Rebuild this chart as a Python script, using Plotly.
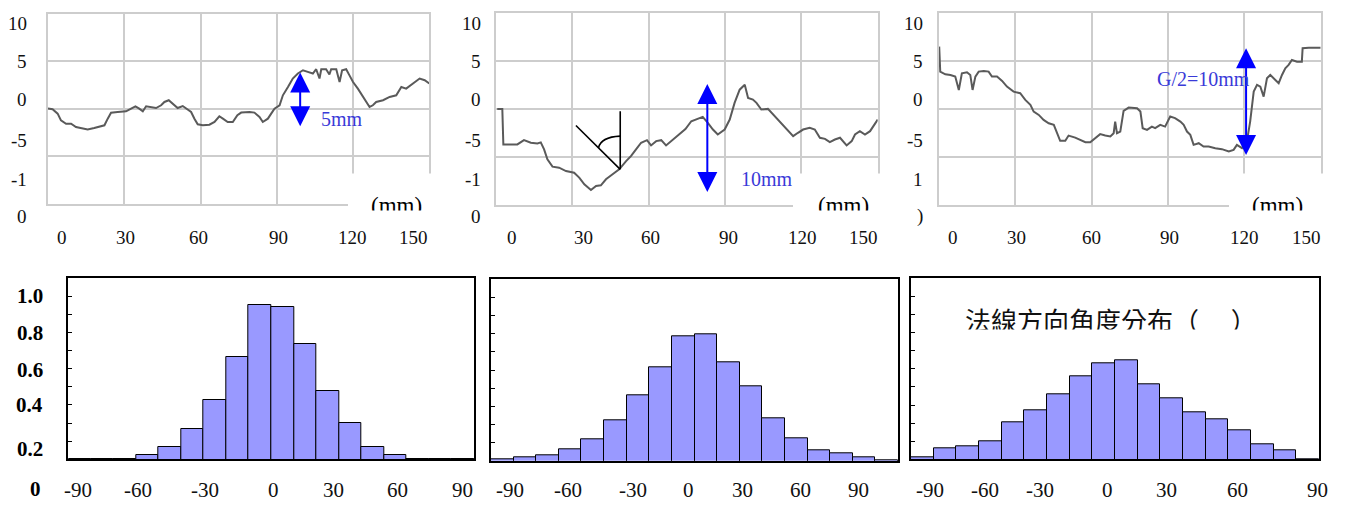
import plotly.graph_objects as go

W, H = 1346, 509
OFF = 8                      # page body margin in the browser
FW, FH = W - 2 * OFF, H - 2 * OFF

# ---------------- data: surface profiles (x in mm, height in mm) ----------------
profile_a_x = [0, 1.8, 3.8, 5.1, 7.1, 9.1, 11.0, 13.7, 15.6, 18.2, 20.2, 22.2, 23.5, 24.8, 27.4, 30.7,
               32.7, 34.4, 35.9, 37.3, 38.6, 40.6, 42.5, 44.5, 45.8, 47.5, 49.1, 51.0, 53.0, 54.3,
               56.3, 57.6, 58.9, 60.9, 63.5, 65.5, 67.4, 68.8, 70.7, 72.7, 74.5, 76.0, 79.3, 81.2,
               83.2, 84.5, 86.5, 87.8, 89.1, 91.1, 92.4, 94.4, 96.3, 98.3, 100.3, 102.2, 104.2,
               105.5, 106.8, 107.5, 109.4, 110.7, 111.4, 113.4, 114.7, 115.7, 117.3, 118.6, 120.0,
               121.9, 123.2, 125.2, 126.5, 127.8, 129.1, 131.8, 134.4, 137.0, 139.0, 140.9, 143.6,
               146.2, 148.2, 150.0]
profile_a_y = [0, -0.07, -0.53, -1.24, -1.6, -1.6, -1.94, -2.05, -2.19, -2.05, -1.94, -1.76, -1.06,
               -0.43, -0.36, -0.29, 0, 0.24, 0, -0.29, 0.24, 0.17, 0.06, 0.35, 0.7, 0.88, 0.53, 0.06,
               0.27, 0, -0.36, -1.06, -1.66, -1.76, -1.7, -1.41, -0.81, -1.06, -1.41, -1.41, -0.7,
               -0.42, -0.36, -0.42, -0.88, -1.41, -1.06, -0.53, 0, 0.35, 1.4, 2.28, 3.17, 3.7, 4.04,
               3.87, 3.7, 4.15, 3.17, 4.15, 4.15, 3.6, 4.15, 4.15, 2.8, 4.04, 4.15, 3.5, 2.8, 2.1,
               1.58, 0.7, 0.17, 0.35, 0.7, 0.88, 1.23, 1.4, 2.28, 2.11, 2.64, 3.17, 2.99, 2.64]

profile_b_x = [0.6, 2.6, 3.0, 5.2, 8.5, 11.1, 13.8, 16.4, 17.7, 19.0, 20.3, 22.3, 24.9, 27.6, 30.8,
               32.8, 34.8, 37.4, 39.4, 41.3, 43.3, 45.9, 48.5, 51.2, 53.1, 55.1, 57.1, 59.4, 61.0,
               63.0, 65.0, 66.9, 68.9, 70.9, 72.8, 74.5, 76.8, 79.4, 81.3, 83.3, 85.3, 87.2, 89.9,
               91.9, 93.8, 95.8, 97.8, 99.1, 101.0, 102.4, 104.3, 106.9, 108.9, 110.9, 112.8, 114.8,
               116.8, 118.7, 120.7, 123.3, 125.3, 127.3, 129.3, 131.2, 133.2, 135.2, 136.5, 137.8,
               139.8, 141.1, 143.0, 145.0, 147.0, 148.9, 150.0]
profile_b_y = [0, 0, -3.72, -3.75, -3.72, -3.27, -3.54, -3.61, -3.5, -4.24, -5.28, -6.04, -6.15, -6.5,
               -6.67, -7.19, -7.89, -8.48, -8.06, -7.99, -7.36, -6.84, -6.32, -5.46, -4.94, -4.24,
               -3.54, -3.27, -3.82, -3.37, -3.27, -3.82, -3.37, -2.85, -2.5, -2.1, -1.29, -1.04, -0.83,
               -1.46, -2.16, -2.68, -2.16, -1.11, 0.63, 2.01, 2.53, 1.15, 0.97, 0.63, -0.07, 0, -0.59,
               -1.11, -1.64, -2.33, -2.85, -2.5, -2.16, -1.98, -2.16, -3.02, -3.13, -3.47, -3.2, -3.02,
               -3.37, -3.82, -3.37, -2.68, -2.33, -2.68, -2.33, -1.64, -1.11]

profile_c_x = [0.2, 0.6, 2.6, 4.6, 6.5, 7.9, 9.1, 11.1, 12.4, 13.3, 14.4, 15.7, 17.7, 19.6, 20.9, 22.9,
               24.9, 26.8, 29.4, 32.0, 34.0, 36.0, 37.3, 39.3, 41.2, 43.2, 45.2, 46.4, 47.7, 49.7,
               51.0, 53.6, 55.6, 57.6, 59.5, 61.5, 63.4, 65.4, 67.4, 68.7, 69.3, 70.0, 71.3, 72.6,
               73.9, 74.6, 77.9, 79.2, 80.1, 81.8, 83.7, 85.0, 87.0, 88.9, 90.9, 92.8, 94.9, 96.2,
               97.5, 98.8, 100.1, 102.1, 104.0, 106.0, 108.6, 111.2, 113.9, 115.8, 117.1, 119.1,
               121.0, 122.3, 123.7, 125.0, 126.3, 127.6, 128.9, 130.2, 132.2, 133.5, 134.8, 136.1,
               137.4, 138.7, 140.7, 142.6, 142.9, 145.3, 150.0]
profile_c_y = [6.51, 3.9, 3.62, 3.55, 3.38, 1.98, 3.73, 3.83, 3.55, 1.98, 3.38, 3.9, 3.97, 3.9, 3.38,
               3.38, 2.93, 2.33, 1.81, 1.64, 0.94, 0.42, -0.28, -0.63, -1.15, -1.5, -1.67, -2.54, -3.34,
               -3.34, -2.79, -3.0, -3.24, -3.48, -3.48, -3.06, -2.64, -2.79, -2.89, -2.54, -1.33, -2.54,
               -2.37, -0.2, 0.07, 0.14, 0.07, -0.28, -2.02, -2.19, -1.85, -2.02, -1.67, -1.85, -0.8,
               -0.97, -1.33, -1.67, -2.37, -2.72, -3.76, -3.59, -3.94, -3.94, -4.11, -4.21, -4.46,
               -4.28, -3.76, -4.1, -3.42, -1.33, 1.81, 2.51, 2.33, 1.29, 3.21, 3.55, 3.03, 2.69, 3.55,
               4.25, 4.6, 5.12, 4.94, 4.94, 6.34, 6.4, 6.4]

# ---------------- data: normal-direction angle distributions ----------------
angle_bins = [-85, -75, -65, -55, -45, -35, -25, -15, -5, 5, 15, 25, 35, 45, 55, 65, 75, 85]
dist_a = [0.104, 0.104, 0.104, 0.124, 0.166, 0.266, 0.427, 0.666, 0.950, 0.941, 0.734, 0.478,
          0.299, 0.170, 0.124, 0.104, 0.104, 0.104]
dist_b = [0.106, 0.118, 0.129, 0.164, 0.218, 0.322, 0.458, 0.615, 0.784, 0.799, 0.642, 0.508,
          0.335, 0.225, 0.155, 0.140, 0.118, 0.100]
dist_c = [0.109, 0.159, 0.174, 0.199, 0.306, 0.370, 0.460, 0.560, 0.629, 0.646, 0.514, 0.436,
          0.357, 0.319, 0.260, 0.183, 0.148, 0.100]

# ---------------- text ----------------
top_x_ticks = ["0", "30", "60", "90", "120", "150"]
top_y_ticks = ["10", "5", "0", "-5", "-1", "0"]
top_y_ticks_c = ["10", "5", "0", "-5", "1", ")"]
bottom_x_ticks = ["-90", "-60", "-30", "0", "30", "60", "90"]
bottom_y_ticks = ["1.0", "0.8", "0.6", "0.4", "0.2", "0"]
unit_label = "(mm)"
gap_labels = ["5mm", "10mm", "G/2=10mm"]
dist_title = "法線方向角度分布（　 ）"

# ---------------- layout geometry (window pixels) ----------------
def PX(x):
    return (x - OFF) / FW

def PY(y):
    return 1 - (y - OFF) / FH

TOP_X = [(48, 429.3), (495.7, 877.7), (938.7, 1320.7)]
TOP_Y = [(13.7, 203.5), (13.3, 204.5), (13.3, 204.5)]
BOT_X = [(68.3, 474.3), (491, 898), (911, 1319)]
BOT_Y = [(278, 459.3), (279.3, 460.7), (278.3, 459.3)]

SERIF = "Liberation Serif"
GRID = "#cdcdcd"

fig = go.Figure()

profiles = [(profile_a_x, profile_a_y), (profile_b_x, profile_b_y), (profile_c_x, profile_c_y)]
for i, (px_, py_) in enumerate(profiles):
    k = "" if i == 0 else str(i + 1)
    fig.add_trace(go.Scatter(x=px_, y=py_, mode="lines",
                             line=dict(color="#5a5a5a", width=2),
                             xaxis="x" + k, yaxis="y" + k, hoverinfo="skip"))

dists = [dist_a, dist_b, dist_c]
for i, d in enumerate(dists):
    k = str(i + 4)
    fig.add_trace(go.Bar(x=angle_bins, y=d, width=10,
                         marker=dict(color="#9999ff", line=dict(color="black", width=1)),
                         xaxis="x" + k, yaxis="y" + k))

layout = dict(width=FW, height=FH, margin=dict(l=0, r=0, t=0, b=0),
              paper_bgcolor="white", plot_bgcolor="white", showlegend=False,
              bargap=0)

for i in range(3):
    k = "" if i == 0 else str(i + 1)
    x0, x1 = TOP_X[i]
    y0, y1 = TOP_Y[i]
    layout["xaxis" + k] = dict(domain=[PX(x0), PX(x1)], range=[0, 150], dtick=30, tick0=0,
                               showgrid=True, gridcolor=GRID, gridwidth=2, zeroline=False,
                               showticklabels=False, ticks="", showline=True, mirror=True,
                               linecolor=GRID, linewidth=2, anchor="y" + k, fixedrange=True)
    layout["yaxis" + k] = dict(domain=[PY(y1), PY(y0)], range=[-10, 10], dtick=5, tick0=0,
                               showgrid=True, gridcolor=GRID, gridwidth=2, zeroline=False,
                               showticklabels=False, ticks="", showline=True, mirror=True,
                               linecolor=GRID, linewidth=2, anchor="x" + k, fixedrange=True)

for i in range(3):
    k = str(i + 4)
    x0, x1 = BOT_X[i]
    y0, y1 = BOT_Y[i]
    layout["xaxis" + k] = dict(domain=[PX(x0), PX(x1)], range=[-90, 90], showgrid=False,
                               zeroline=False, showticklabels=False, ticks="", showline=True,
                               mirror=True, linecolor="black", linewidth=1.6, anchor="y" + k,
                               fixedrange=True)
    layout["yaxis" + k] = dict(domain=[PY(y1), PY(y0)], range=[0.1, 1.1], showgrid=False,
                               zeroline=False, showticklabels=False,
                               tickvals=[0.2, 0.3, 0.4, 0.5, 0.6, 0.7, 0.8, 0.9, 1.0],
                               ticks="inside", ticklen=4, tickcolor="black", tickwidth=1,
                               showline=True, mirror=True, linecolor="black", linewidth=1.6,
                               anchor="x" + k, fixedrange=True)

shapes = []
# white blocks masking lower-right corners of the profile frames
white_blocks = [(348, 433), (793, 881), (1229, 1325)]
for (a, b) in white_blocks:
    shapes.append(dict(type="rect", xref="paper", yref="paper", x0=PX(a), x1=PX(b),
                       y0=PY(214), y1=PY(173.5), fillcolor="white", line=dict(width=0),
                       layer="above"))
# angle sketch in the middle profile
shapes.append(dict(type="line", xref="x2", yref="y2", x0=31.5, y0=-1.74, x1=48.9, y1=-6.32,
                   line=dict(color="black", width=1.6), layer="above"))
shapes.append(dict(type="line", xref="x2", yref="y2", x0=48.9, y0=-0.25, x1=48.9, y1=-6.32,
                   line=dict(color="black", width=1.6), layer="above"))
shapes.append(dict(type="path", xref="x2", yref="y2", path="M 40.4,-4.06 Q 41.3,-2.94 48.9,-2.85",
                   line=dict(color="black", width=1.6), layer="above"))
layout["shapes"] = shapes

ann = []
BLUE = "#0000ff"
TXTBLUE = "#3a3ad8"
# double arrows
arrows = [("x", "y", 99.2, 3.97, -1.87), ("x2", "y2", 83.1, 2.77, -8.69),
          ("x3", "y3", 120.7, 6.51, -4.81)]
for xr, yr, xv, ytop, ybot in arrows:
    ann.append(dict(x=xv, y=ybot, ax=xv, ay=ytop, xref=xr, yref=yr, axref=xr, ayref=yr,
                    text="", showarrow=True, arrowhead=2, startarrowhead=2,
                    arrowside="end+start", arrowsize=2, startarrowsize=2, arrowwidth=2,
                    arrowcolor=BLUE, standoff=0, startstandoff=0))
# gap labels
gap_pos = [(319, 119), (739, 178.5), (1155, 78.5)]
for t, (gx, gy) in zip(gap_labels, gap_pos):
    ann.append(dict(x=PX(gx), y=PY(gy), xref="paper", yref="paper", text=t, showarrow=False,
                    xanchor="left", yanchor="middle",
                    font=dict(family=SERIF, size=20, color=TXTBLUE)))

# (mm) unit labels, clipped at the bottom
mm_pos = [396, 843, 1277]
for mx in mm_pos:
    ann.append(dict(x=PX(mx), y=PY(206), xref="paper", yref="paper", text=unit_label,
                    showarrow=False, xanchor="center", yanchor="middle",
                    font=dict(family=SERIF, size=23, color="black")))
    ann.append(dict(x=PX(mx), y=PY(210), xref="paper", yref="paper", text=" ",
                    showarrow=False, xanchor="center", yanchor="top", width=80, height=16,
                    bgcolor="white", borderpad=0))

# top tick labels
top_y_pos = [23, 61, 100, 140, 180, 216]
top_y_right = [29, 483, 925]
top_x_pos = [[62, 125, 199, 278, 352, 413], [512, 583, 650, 728, 802, 863],
             [953, 1016, 1091, 1169, 1244, 1306]]
for i in range(3):
    labels = top_y_ticks_c if i == 2 else top_y_ticks
    for t, yy in zip(labels, top_y_pos):
        ann.append(dict(x=PX(top_y_right[i]), y=PY(yy), xref="paper", yref="paper", text=t,
                        showarrow=False, xanchor="right", yanchor="middle",
                        font=dict(family=SERIF, size=19, color="#111")))
    for t, xx in zip(top_x_ticks, top_x_pos[i]):
        ann.append(dict(x=PX(xx), y=PY(238), xref="paper", yref="paper", text=t,
                        showarrow=False, xanchor="center", yanchor="middle",
                        font=dict(family=SERIF, size=19, color="#111")))

# bottom tick labels
bot_x_pos = [[78, 138, 205, 273, 333, 397, 462], [510, 568, 633, 688, 742, 800, 858],
             [930, 985, 1040, 1107, 1166, 1237, 1317]]
bot_x_y = [489.5, 489.5, 489.5]
for i in range(3):
    for t, xx in zip(bottom_x_ticks, bot_x_pos[i]):
        ann.append(dict(x=PX(xx), y=PY(bot_x_y[i]), xref="paper", yref="paper", text=t,
                        showarrow=False, xanchor="center", yanchor="middle",
                        font=dict(family=SERIF, size=21, color="#111")))
bot_y_pos = [296, 333, 370, 405, 449, 489]
for t, yy in zip(bottom_y_ticks, bot_y_pos):
    ann.append(dict(x=PX(45 if t != "0" else 43), y=PY(yy), xref="paper", yref="paper",
                    text="<b>" + t + "</b>", showarrow=False, xanchor="right", yanchor="middle",
                    font=dict(family=SERIF, size=21, color="black")))

# distribution title (bottom slightly clipped)
ann.append(dict(x=PX(1111), y=PY(319), xref="paper", yref="paper", text=dist_title,
                showarrow=False, xanchor="center", yanchor="middle",
                font=dict(family="Noto Sans CJK TC", size=26, color="#111")))
ann.append(dict(x=PX(1103), y=PY(328.5), xref="paper", yref="paper", text=" ",
                showarrow=False, xanchor="center", yanchor="top", width=310, height=12,
                bgcolor="white", borderpad=0))

layout["annotations"] = ann
fig.update_layout(**layout)
fig.write_html("out.html")
